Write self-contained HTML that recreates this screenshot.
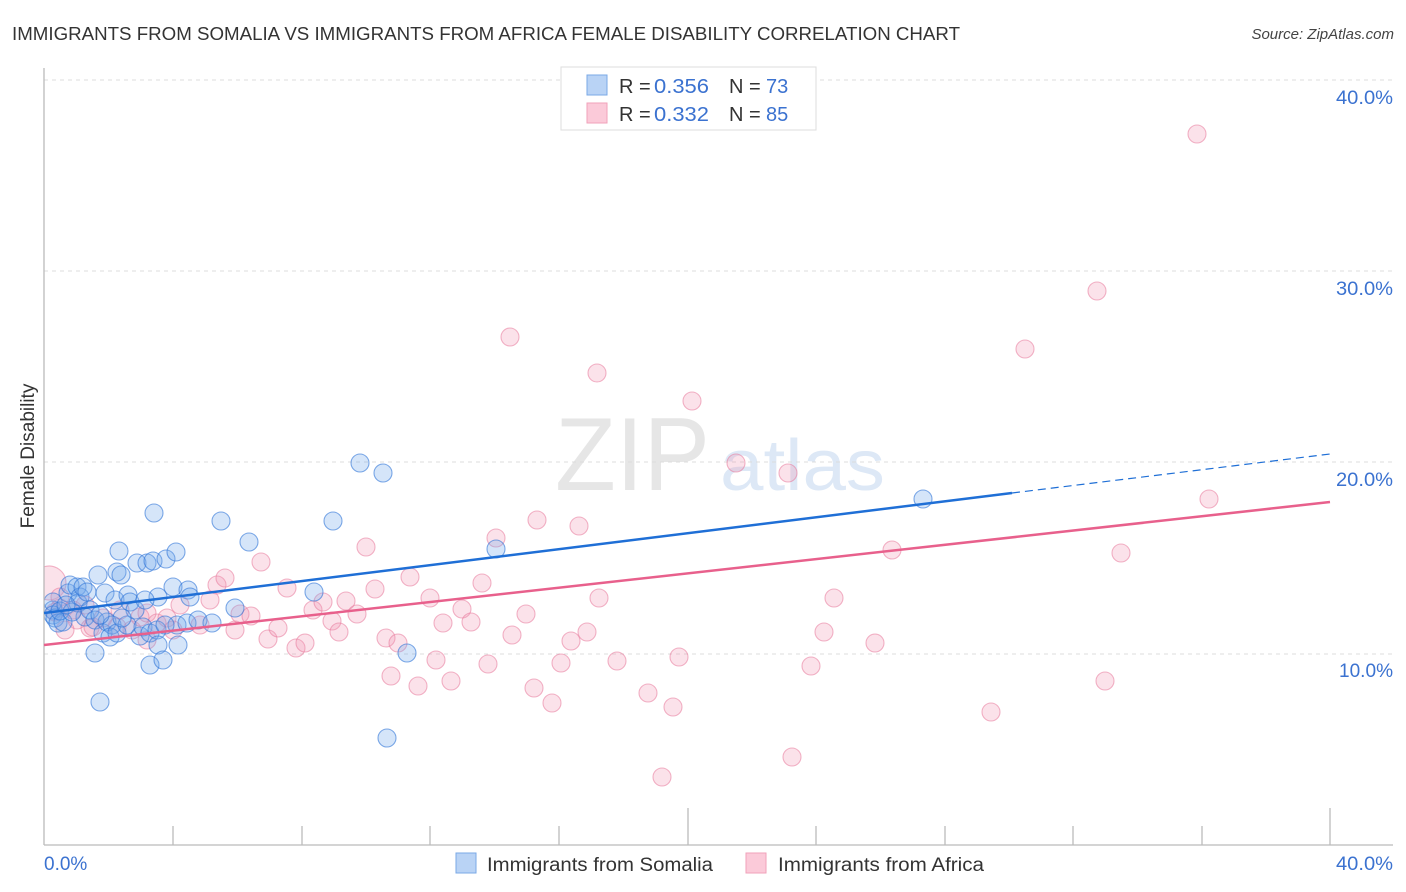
<!DOCTYPE html>
<html><head><meta charset="utf-8"><style>
html,body{margin:0;padding:0;background:#fff;width:1406px;height:892px;overflow:hidden}
svg{display:block}
text{font-family:"Liberation Sans",sans-serif}
</style></head><body>
<svg width="1406" height="892" viewBox="0 0 1406 892" xmlns="http://www.w3.org/2000/svg">
<text x="12" y="40" font-size="18" fill="#333" textLength="948" lengthAdjust="spacingAndGlyphs">IMMIGRANTS FROM SOMALIA VS IMMIGRANTS FROM AFRICA FEMALE DISABILITY CORRELATION CHART</text>
<text x="1394" y="39" font-size="15" fill="#444" font-style="italic" text-anchor="end">Source: ZipAtlas.com</text>

<!-- watermark -->
<text x="555" y="490" font-family="Liberation Serif,serif" font-size="104" fill="#e6e6e6" textLength="155" lengthAdjust="spacingAndGlyphs">ZIP</text>
<text x="720" y="490" font-size="72" fill="#dde8f6" textLength="165" lengthAdjust="spacingAndGlyphs">atlas</text>

<!-- gridlines -->
<g stroke="#dcdcdc" stroke-width="1" stroke-dasharray="4,4">
<line x1="44" y1="80" x2="1393" y2="80"/>
<line x1="44" y1="271" x2="1393" y2="271"/>
<line x1="44" y1="462" x2="1393" y2="462"/>
<line x1="44" y1="654" x2="1393" y2="654"/>
</g>

<!-- pink points -->
<g fill="rgba(242,150,180,0.28)" stroke="rgba(232,120,155,0.55)" stroke-width="1.1">
<path d="M44,566.75 A17,17 0 1 1 44,599.25 Z"/>
<circle cx="60" cy="597" r="9"/><circle cx="60" cy="608" r="9"/><circle cx="73" cy="610" r="9"/><circle cx="77" cy="620" r="9"/>
<circle cx="90" cy="628" r="9"/><circle cx="93" cy="627" r="9"/><circle cx="103" cy="618" r="9"/><circle cx="117" cy="627" r="9"/>
<circle cx="132" cy="630" r="9"/><circle cx="140" cy="617" r="9"/><circle cx="147" cy="613" r="9"/><circle cx="157" cy="623" r="9"/>
<circle cx="167" cy="618" r="9"/><circle cx="173" cy="630" r="9"/><circle cx="180" cy="605" r="9"/><circle cx="147" cy="640" r="9"/>
<circle cx="200" cy="625" r="9"/><circle cx="210" cy="600" r="9"/><circle cx="217" cy="585" r="9"/><circle cx="225" cy="578" r="9"/>
<circle cx="235" cy="630" r="9"/><circle cx="240" cy="614" r="9"/><circle cx="251" cy="616" r="9"/><circle cx="65" cy="630" r="9"/>
<circle cx="55" cy="612" r="9"/><circle cx="85" cy="605" r="9"/><circle cx="120" cy="610" r="9"/>
<circle cx="261" cy="562" r="9"/><circle cx="268" cy="639" r="9"/><circle cx="278" cy="628" r="9"/><circle cx="287" cy="588" r="9"/>
<circle cx="296" cy="648" r="9"/><circle cx="305" cy="643" r="9"/><circle cx="313" cy="610" r="9"/><circle cx="323" cy="602" r="9"/>
<circle cx="332" cy="621" r="9"/><circle cx="339" cy="632" r="9"/><circle cx="346" cy="601" r="9"/><circle cx="357" cy="614" r="9"/>
<circle cx="366" cy="547" r="9"/><circle cx="375" cy="589" r="9"/><circle cx="386" cy="638" r="9"/><circle cx="391" cy="676" r="9"/>
<circle cx="398" cy="643" r="9"/><circle cx="410" cy="577" r="9"/><circle cx="418" cy="686" r="9"/><circle cx="430" cy="598" r="9"/>
<circle cx="436" cy="660" r="9"/><circle cx="443" cy="623" r="9"/><circle cx="451" cy="681" r="9"/><circle cx="462" cy="609" r="9"/>
<circle cx="471" cy="622" r="9"/><circle cx="482" cy="583" r="9"/><circle cx="488" cy="664" r="9"/><circle cx="496" cy="538" r="9"/>
<circle cx="510" cy="337" r="9"/><circle cx="512" cy="635" r="9"/><circle cx="526" cy="614" r="9"/><circle cx="534" cy="688" r="9"/>
<circle cx="537" cy="520" r="9"/><circle cx="552" cy="703" r="9"/><circle cx="561" cy="663" r="9"/><circle cx="571" cy="641" r="9"/>
<circle cx="579" cy="526" r="9"/><circle cx="587" cy="632" r="9"/><circle cx="597" cy="373" r="9"/><circle cx="599" cy="598" r="9"/>
<circle cx="617" cy="661" r="9"/><circle cx="648" cy="693" r="9"/><circle cx="662" cy="777" r="9"/><circle cx="673" cy="707" r="9"/>
<circle cx="679" cy="657" r="9"/><circle cx="692" cy="401" r="9"/><circle cx="736" cy="463" r="9"/><circle cx="788" cy="473" r="9"/>
<circle cx="792" cy="757" r="9"/><circle cx="811" cy="666" r="9"/><circle cx="824" cy="632" r="9"/><circle cx="834" cy="598" r="9"/>
<circle cx="875" cy="643" r="9"/><circle cx="892" cy="550" r="9"/><circle cx="991" cy="712" r="9"/><circle cx="1025" cy="349" r="9"/>
<circle cx="1097" cy="291" r="9"/><circle cx="1105" cy="681" r="9"/><circle cx="1121" cy="553" r="9"/><circle cx="1197" cy="134" r="9"/>
<circle cx="1209" cy="499" r="9"/>
</g>

<!-- blue points -->
<g fill="rgba(115,168,235,0.3)" stroke="rgba(45,115,215,0.6)" stroke-width="1.1">
<circle cx="53" cy="610" r="9"/><circle cx="53" cy="602" r="9"/><circle cx="53" cy="615" r="9"/><circle cx="55" cy="618" r="9"/>
<circle cx="58" cy="623" r="9"/><circle cx="63" cy="622" r="9"/><circle cx="68" cy="593" r="9"/><circle cx="70" cy="585" r="9"/>
<circle cx="77" cy="587" r="9"/><circle cx="78" cy="603" r="9"/><circle cx="80" cy="597" r="9"/><circle cx="83" cy="587" r="9"/>
<circle cx="85" cy="617" r="9"/><circle cx="87" cy="592" r="9"/><circle cx="90" cy="610" r="9"/><circle cx="95" cy="620" r="9"/>
<circle cx="95" cy="653" r="9"/><circle cx="98" cy="575" r="9"/><circle cx="100" cy="702" r="9"/><circle cx="103" cy="633" r="9"/>
<circle cx="105" cy="593" r="9"/><circle cx="107" cy="622" r="9"/><circle cx="112" cy="625" r="9"/><circle cx="110" cy="637" r="9"/>
<circle cx="115" cy="600" r="9"/><circle cx="117" cy="572" r="9"/><circle cx="117" cy="633" r="9"/><circle cx="119" cy="551" r="9"/>
<circle cx="121" cy="575" r="9"/><circle cx="127" cy="625" r="9"/><circle cx="128" cy="595" r="9"/><circle cx="130" cy="602" r="9"/>
<circle cx="137" cy="563" r="9"/><circle cx="140" cy="636" r="9"/><circle cx="143" cy="627" r="9"/><circle cx="147" cy="563" r="9"/>
<circle cx="150" cy="633" r="9"/><circle cx="150" cy="665" r="9"/><circle cx="153" cy="561" r="9"/><circle cx="154" cy="513" r="9"/>
<circle cx="157" cy="630" r="9"/><circle cx="158" cy="597" r="9"/><circle cx="158" cy="645" r="9"/><circle cx="163" cy="660" r="9"/>
<circle cx="166" cy="559" r="9"/><circle cx="173" cy="587" r="9"/><circle cx="176" cy="552" r="9"/><circle cx="177" cy="625" r="9"/>
<circle cx="178" cy="645" r="9"/><circle cx="187" cy="623" r="9"/><circle cx="188" cy="590" r="9"/><circle cx="190" cy="597" r="9"/>
<circle cx="198" cy="620" r="9"/><circle cx="212" cy="623" r="9"/><circle cx="221" cy="521" r="9"/><circle cx="235" cy="608" r="9"/>
<circle cx="249" cy="542" r="9"/><circle cx="314" cy="592" r="9"/><circle cx="333" cy="521" r="9"/><circle cx="360" cy="463" r="9"/>
<circle cx="383" cy="473" r="9"/><circle cx="387" cy="738" r="9"/><circle cx="407" cy="653" r="9"/><circle cx="496" cy="549" r="9"/>
<circle cx="923" cy="499" r="9"/><circle cx="60" cy="611" r="9"/><circle cx="72" cy="612" r="9"/><circle cx="66" cy="605" r="9"/>
<circle cx="100" cy="615" r="9"/><circle cx="135" cy="610" r="9"/><circle cx="122" cy="618" r="9"/><circle cx="145" cy="600" r="9"/>
<circle cx="165" cy="625" r="9"/>
</g>

<!-- axes -->
<g stroke="#bbb" stroke-width="1.3">
<line x1="44" y1="68" x2="44" y2="845"/>
<line x1="44" y1="845" x2="1393" y2="845"/>
<line x1="173" y1="826" x2="173" y2="845"/>
<line x1="302" y1="826" x2="302" y2="845"/>
<line x1="430" y1="826" x2="430" y2="845"/>
<line x1="559" y1="826" x2="559" y2="845"/>
<line x1="688" y1="808" x2="688" y2="845"/>
<line x1="816" y1="826" x2="816" y2="845"/>
<line x1="945" y1="826" x2="945" y2="845"/>
<line x1="1073" y1="826" x2="1073" y2="845"/>
<line x1="1202" y1="826" x2="1202" y2="845"/>
<line x1="1330" y1="808" x2="1330" y2="845"/>
</g>
<g font-size="19" fill="#3b72d0" text-anchor="end">
<text x="1393" y="104" textLength="57" lengthAdjust="spacingAndGlyphs">40.0%</text>
<text x="1393" y="295" textLength="57" lengthAdjust="spacingAndGlyphs">30.0%</text>
<text x="1393" y="486" textLength="57" lengthAdjust="spacingAndGlyphs">20.0%</text>
<text x="1393" y="677" textLength="54" lengthAdjust="spacingAndGlyphs">10.0%</text>
</g>
<text x="44" y="870" font-size="19" fill="#3b72d0">0.0%</text>
<text x="1393" y="870" font-size="19" fill="#3b72d0" text-anchor="end" textLength="57" lengthAdjust="spacingAndGlyphs">40.0%</text>
<text transform="translate(34,456) rotate(-90)" font-size="19" fill="#333" text-anchor="middle">Female Disability</text>

<!-- trend lines -->
<line x1="44" y1="645" x2="1330" y2="502" stroke="#e8608c" stroke-width="2.5"/>
<line x1="44" y1="613" x2="1012" y2="493" stroke="#1f6fd6" stroke-width="2.5"/>
<line x1="1012" y1="493" x2="1330" y2="454" stroke="#1f6fd6" stroke-width="1.2" stroke-dasharray="8,5"/>

<!-- top legend -->
<rect x="561" y="67" width="255" height="63" fill="#fff" stroke="#ddd" stroke-width="1"/>
<rect x="587" y="75" width="20" height="20" fill="#b9d3f5" stroke="#7aa8e6" stroke-width="1"/>
<rect x="587" y="103" width="20" height="20" fill="#fbcad9" stroke="#f0a2ba" stroke-width="1"/>
<g font-size="20">
<text x="619" y="93" fill="#333">R = </text><text x="654" y="93" fill="#3b72d0" textLength="55" lengthAdjust="spacingAndGlyphs">0.356</text>
<text x="729" y="93" fill="#333">N = </text><text x="766" y="93" fill="#3b72d0">73</text>
<text x="619" y="121" fill="#333">R = </text><text x="654" y="121" fill="#3b72d0" textLength="55" lengthAdjust="spacingAndGlyphs">0.332</text>
<text x="729" y="121" fill="#333">N = </text><text x="766" y="121" fill="#3b72d0">85</text>
</g>

<!-- bottom legend -->
<rect x="456" y="853" width="20" height="20" fill="#b9d3f5" stroke="#7aa8e6" stroke-width="1"/>
<text x="487" y="871" font-size="19" fill="#333" textLength="226" lengthAdjust="spacingAndGlyphs">Immigrants from Somalia</text>
<rect x="746" y="853" width="20" height="20" fill="#fbcad9" stroke="#f0a2ba" stroke-width="1"/>
<text x="778" y="871" font-size="19" fill="#333" textLength="206" lengthAdjust="spacingAndGlyphs">Immigrants from Africa</text>
</svg>
</body></html>
